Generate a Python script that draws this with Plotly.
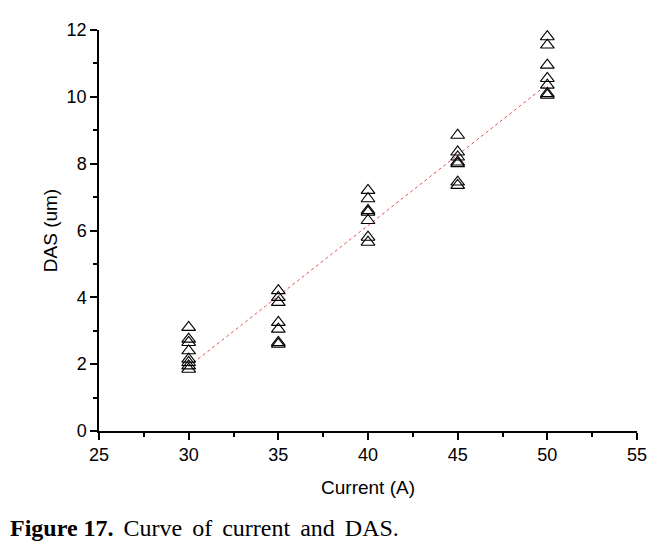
import plotly.graph_objects as go

current = [30] * 8 + [35] * 7 + [40] * 7 + [45] * 7 + [50] * 7
das = [3.1, 2.75, 2.65, 2.4, 2.15, 2.05, 1.95, 1.85,
       4.2, 4.0, 3.85, 3.25, 3.05, 2.65, 2.6,
       7.2, 6.95, 6.6, 6.55, 6.3, 5.8, 5.65,
       8.85, 8.35, 8.2, 8.05, 8.0, 7.45, 7.35,
       11.8, 11.55, 10.95, 10.55, 10.35, 10.1, 10.05]

# linear fit line end points
fit_x = [30, 50]
fit_y = [1.93, 10.37]

fig = go.Figure()

fig.add_trace(go.Scatter(x=fit_x, y=fit_y, mode='lines',
                         line=dict(color='#e05050', width=1, dash='dot'),
                         showlegend=False))
fig.add_trace(go.Scatter(x=current, y=das, mode='markers',
                         marker=dict(symbol='triangle-up-open', size=12,
                                     color='black', line=dict(width=1.1)),
                         showlegend=False))

tick_font = dict(family='Arial, Liberation Sans', size=18, color='black')
title_font = dict(family='Arial, Liberation Sans', size=19, color='black')

fig.update_xaxes(range=[25, 55], tickvals=[25, 30, 35, 40, 45, 50, 55],
                 ticks='outside', ticklen=7, tickwidth=1.5, tickcolor='black',
                 minor=dict(tickvals=[27.5, 32.5, 37.5, 42.5, 47.5, 52.5],
                            ticks='outside', ticklen=4, tickcolor='black'),
                 showline=True, linecolor='black', linewidth=1.5,
                 showgrid=False, zeroline=False, tickfont=tick_font,
                 title=dict(text='Current (A)', font=title_font, standoff=16))
fig.update_yaxes(range=[0, 12], tickvals=[0, 2, 4, 6, 8, 10, 12],
                 ticks='outside', ticklen=7, tickwidth=1.5, tickcolor='black',
                 minor=dict(tickvals=[1, 3, 5, 7, 9, 11],
                            ticks='outside', ticklen=4, tickcolor='black'),
                 showline=True, linecolor='black', linewidth=1.5,
                 showgrid=False, zeroline=False, tickfont=tick_font,
                 title=dict(text='DAS (um)', font=title_font, standoff=4))

gap = '\u2004\u200a'
caption = '<b>Figure 17.</b>' + gap + gap.join(['Curve', 'of', 'current', 'and', 'DAS.'])
fig.add_annotation(x=-0.169, y=-0.243, xref='paper', yref='paper',
                   xanchor='left', yanchor='middle', showarrow=False,
                   text=caption,
                   font=dict(family='Liberation Serif, Times New Roman',
                             size=24, color='black'))

fig.update_layout(width=665, height=546,
                  margin=dict(l=91, r=36, t=12, b=123),
                  plot_bgcolor='white', paper_bgcolor='white')

fig.write_html("out.html")
